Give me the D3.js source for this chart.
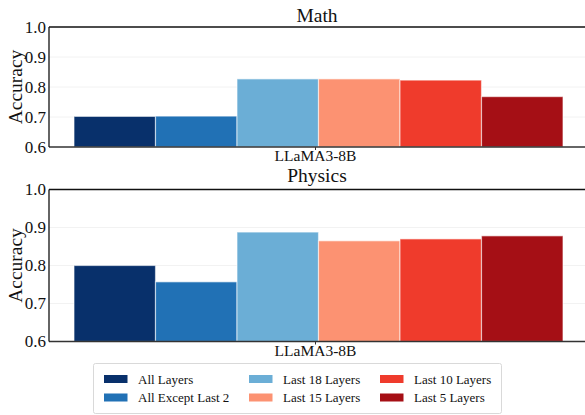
<!DOCTYPE html>
<html><head><meta charset="utf-8">
<script src="https://cdn.jsdelivr.net/npm/d3@7"></script>
<style>body{margin:0;background:#fff}svg{display:block}</style>
</head><body><svg id="c" width="585" height="415"></svg>
<script>
const models = ["LLaMA3-8B"];
const series = ["All Layers","All Except Last 2","Last 18 Layers","Last 15 Layers","Last 10 Layers","Last 5 Layers"];
const colors = ["#08306b","#2171b5","#6baed6","#fc9272","#ef3b2c","#a50f15"];
const mathVals = [0.702, 0.703, 0.827, 0.827, 0.823, 0.768];
const physicsVals = [0.800, 0.757, 0.888, 0.865, 0.870, 0.878];
const yTicks = [0.6, 0.7, 0.8, 0.9, 1.0];
const FONT = "Liberation Serif";
const panels = [
  {title:"Math", vals:mathVals, top:27, bottom:147, titleY:21.5},
  {title:"Physics", vals:physicsVals, top:189.5, bottom:341.5, titleY:182}
];
const svg = d3.select("#c");
const left = 49, right = 585;
const xGroup = d3.scaleBand().domain(models).range([left, right - 3]).padding(0);
const xBar = d3.scaleBand().domain(series).range([74, 563]).padding(0);

panels.forEach(p => {
  const y = d3.scaleLinear().domain([0.6, 1.0]).range([p.bottom, p.top]);
  const g = svg.append("g");
  g.selectAll("line.grid").data(yTicks.slice(1, -1)).enter().append("line")
    .attr("x1", left).attr("x2", right).attr("y1", d => y(d)).attr("y2", d => y(d))
    .attr("stroke", "#efefef").attr("stroke-width", 0.8);
  g.selectAll("rect.bar").data(series).enter().append("rect")
    .attr("x", d => xBar(d)).attr("width", xBar.bandwidth())
    .attr("y", (d, i) => y(p.vals[i])).attr("height", (d, i) => p.bottom - y(p.vals[i]))
    .attr("fill", (d, i) => colors[i])
    .attr("stroke", "#fff").attr("stroke-opacity", 0.55).attr("stroke-width", 1.2);
  g.append("line").attr("x1", left).attr("x2", right).attr("y1", p.top).attr("y2", p.top).attr("stroke", "#111").attr("stroke-width", 1.3);
  g.append("line").attr("x1", left).attr("x2", right).attr("y1", p.bottom).attr("y2", p.bottom).attr("stroke", "#333").attr("stroke-width", 1.6);
  g.append("line").attr("x1", left).attr("x2", left).attr("y1", p.top).attr("y2", p.bottom).attr("stroke", "#111").attr("stroke-width", 1.3);
  const ya = d3.axisLeft(y).tickValues(yTicks).tickFormat(d3.format(".1f")).tickSize(0).tickPadding(3);
  const ag = g.append("g").attr("transform", `translate(${left},0)`).call(ya)
    .attr("font-family", FONT).attr("font-size", 17);
  ag.select(".domain").remove();
  ag.selectAll("text").attr("fill", "#111").attr("font-family", FONT).attr("font-size", 17);
  const xa = d3.axisBottom(xGroup).tickSize(3).tickPadding(0);
  const xg = g.append("g").attr("transform", `translate(0,${p.bottom})`).call(xa)
    .attr("font-family", FONT).attr("font-size", 15.5);
  xg.select(".domain").remove();
  xg.selectAll("text").attr("fill", "#111").attr("font-family", FONT).attr("font-size", 15.5);
  xg.selectAll("line").attr("stroke", "#333");
  svg.append("text").attr("transform", `translate(22,${(p.top + p.bottom) / 2}) rotate(-90)`)
    .attr("text-anchor", "middle").attr("font-family", FONT).attr("font-size", 19.5).attr("fill", "#111").text("Accuracy");
  svg.append("text").attr("x", (left + right) / 2).attr("y", p.titleY).attr("text-anchor", "middle")
    .attr("font-family", FONT).attr("font-size", 19.5).attr("fill", "#111").text(p.title);
});

const lg = svg.append("g");
lg.append("rect").attr("x", 93.5).attr("y", 363.5).attr("width", 408).attr("height", 50).attr("rx", 2)
  .attr("fill", "#fff").attr("stroke", "#d9d9d9").attr("stroke-width", 1);
const colX = [104, 249, 380];
const rowY = [379, 397.5];
series.forEach((s, i) => {
  const c = Math.floor(i / 2), r = i % 2;
  lg.append("rect").attr("x", colX[c]).attr("y", rowY[r] - 4).attr("width", 23.5).attr("height", 8).attr("fill", colors[i]);
  lg.append("text").attr("x", colX[c] + 34).attr("y", rowY[r] + 4.5)
    .attr("font-family", FONT).attr("font-size", 13).attr("fill", "#111").text(s);
});
</script></body></html>
